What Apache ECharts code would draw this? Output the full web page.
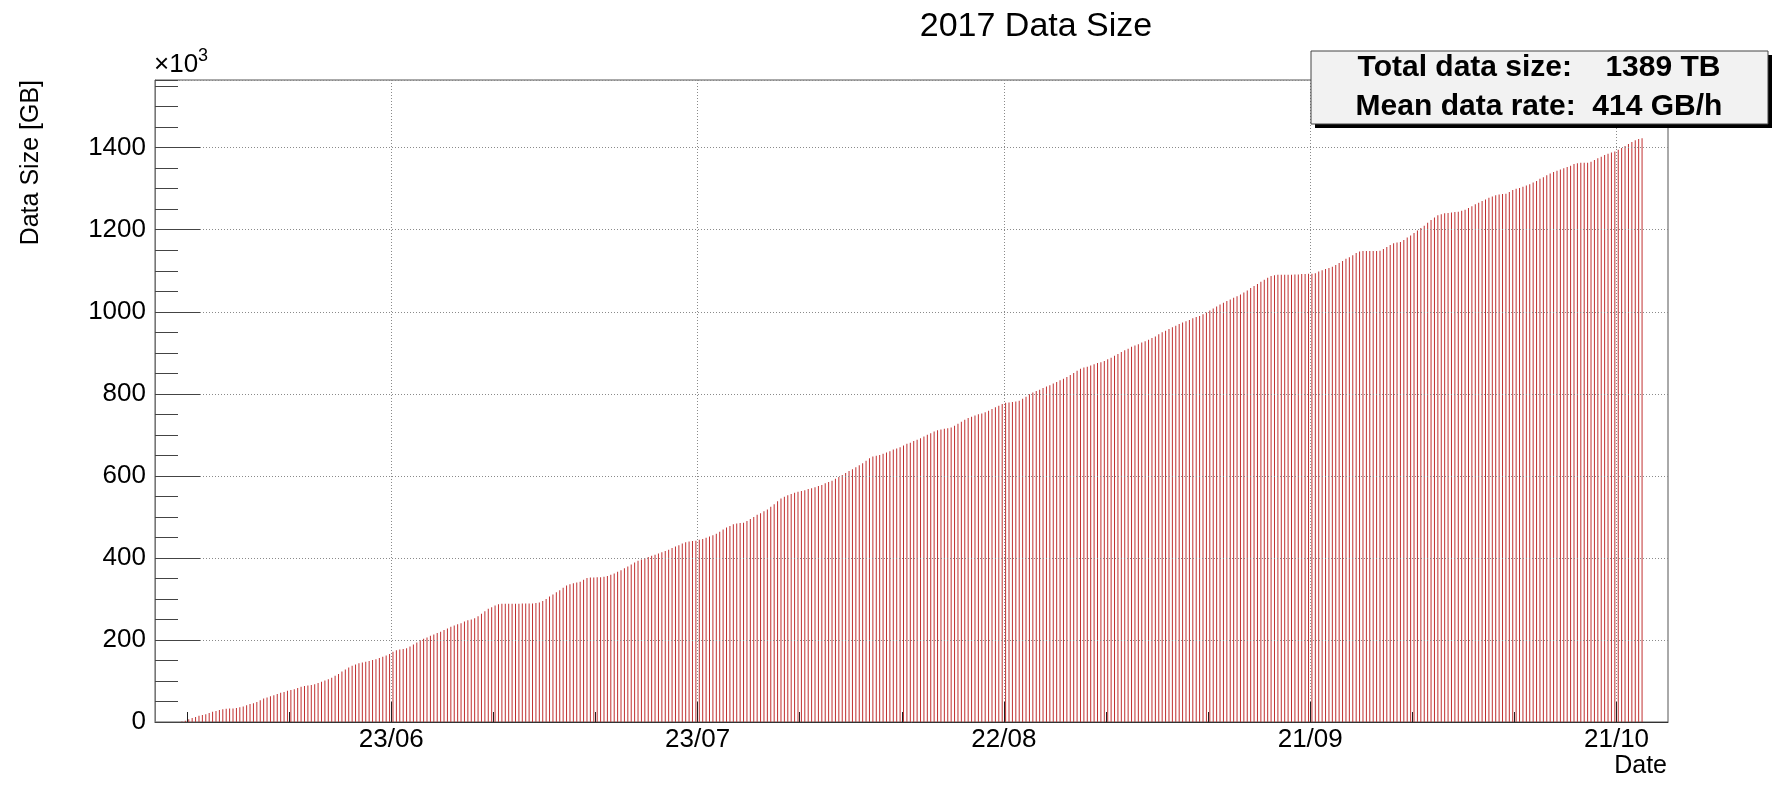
<!DOCTYPE html>
<html>
<head>
<meta charset="utf-8">
<script src="https://cdn.jsdelivr.net/npm/echarts@6/dist/echarts.min.js"></script>
<style>
html,body{margin:0;padding:0;background:#fff;}
#chart{width:1776px;height:787px;}
</style>
</head>
<body>
<div id="chart"></div>
<script>
// ---------------- data ----------------
const chartTitle = '2017 Data Size';
const yAxisTitle = 'Data Size [GB]';
const xAxisTitle = 'Date';
const statsLines = ['Total data size:    1389 TB', 'Mean data rate:  414 GB/h'];
// first 8-hour bin (UTC) and bin width
const binStart = '2017-06-02T12:00:00Z';
const binHours = 8;
// cumulative data size per 8-hour bin, in 10^3 GB
const sizeValues = [
  1,3,7,10,12,15,17,19,22,25,
  27,29,31,32,33,33,34,36,38,41,
  44,46,49,53,57,60,63,65,68,71,
  73,76,78,80,83,86,88,89,90,92,
  95,98,101,104,108,113,117,123,128,133,
  137,140,143,145,147,149,151,153,156,159,
  162,166,171,175,177,178,180,184,189,194,
  199,203,206,210,213,217,220,224,228,232,
  235,238,241,245,248,250,253,258,264,270,
  276,280,284,287,288,288,288,288,288,288,
  289,289,289,289,290,291,295,300,306,311,
  316,321,327,333,336,338,340,342,347,351,
  352,352,353,353,354,356,359,362,366,370,
  375,379,384,389,393,396,399,402,405,408,
  411,414,417,420,424,428,431,435,438,440,
  441,442,444,446,449,452,455,459,464,469,
  474,478,482,484,485,486,490,495,500,505,
  509,514,518,525,531,538,545,549,553,556,
  559,561,563,565,568,570,572,575,578,582,
  585,588,593,597,602,607,612,616,621,626,
  631,637,643,647,649,651,654,657,660,664,
  667,670,674,678,681,685,688,692,696,700,
  704,708,711,713,715,716,718,722,727,732,
  737,741,744,747,750,752,755,759,763,767,
  771,775,778,779,780,781,783,788,793,799,
  803,807,810,814,818,821,825,829,833,837,
  841,846,851,856,861,864,866,869,872,875,
  877,880,884,888,893,897,902,906,910,915,
  918,921,925,928,932,936,940,945,950,954,
  958,962,966,970,974,977,980,984,987,990,
  994,998,1003,1008,1013,1018,1022,1026,1030,1034,
  1038,1042,1047,1052,1058,1063,1068,1073,1078,1083,
  1087,1089,1090,1090,1090,1090,1090,1091,1091,1092,
  1092,1093,1093,1094,1098,1101,1104,1107,1110,1114,
  1119,1124,1129,1133,1138,1143,1147,1148,1148,1148,
  1148,1148,1149,1153,1158,1163,1167,1169,1170,1175,
  1181,1186,1192,1198,1204,1210,1217,1224,1230,1235,
  1238,1240,1241,1242,1243,1244,1246,1249,1253,1257,
  1262,1266,1270,1274,1278,1281,1284,1286,1287,1288,
  1292,1297,1300,1302,1305,1308,1311,1315,1319,1324,
  1328,1333,1337,1341,1344,1347,1350,1353,1356,1360,
  1362,1363,1363,1363,1366,1370,1374,1378,1382,1385,
  1388,1391,1395,1399,1404,1409,1414,1418,1421,1423
];
// labelled (major) date ticks and secondary ticks
const majorTickDates = ['2017-06-23','2017-07-23','2017-08-22','2017-09-21','2017-10-21'];
const minorTickDates = ['2017-06-03','2017-06-13','2017-06-23','2017-07-03','2017-07-13','2017-07-23',
  '2017-08-02','2017-08-12','2017-08-22','2017-09-01','2017-09-11','2017-09-21',
  '2017-10-01','2017-10-11','2017-10-21'];
const yMajorStep = 200;
const yMinorStep = 50;

// ---------------- build ----------------
const DAY = 86400000;
const t0 = Date.parse(binStart);
const seriesData = sizeValues.map((v, i) => [t0 + i * binHours * 3600000, v]);
const toMs = d => Date.parse(d + 'T00:00:00Z');
const majorTicks = majorTickDates.map(toMs);
const minorTicks = minorTickDates.map(toMs);
const ref = toMs('2017-06-23');
const xMin = ref - 23.14 * DAY;
const xMax = ref + 125.04 * DAY;
const yMax = 1565;

const FONT = 'Liberation Sans, Arial, Helvetica, sans-serif';
const fmtDate = v => {
  const d = new Date(v);
  const dd = String(d.getUTCDate()).padStart(2, '0');
  const mm = String(d.getUTCMonth() + 1).padStart(2, '0');
  return dd + '/' + mm;
};
const gridLine = { show: true, lineStyle: { color: '#8a8a8a', width: 1, type: [1, 2] } };

const chart = echarts.init(document.getElementById('chart'), null, { renderer: 'canvas' });
chart.setOption({
  animation: false,
  backgroundColor: '#fff',
  grid: { left: 155, right: 108, top: 80, bottom: 65, show: true, borderColor: '#555', borderWidth: 1 },
  xAxis: [
    {
      type: 'value', min: xMin, max: xMax, position: 'bottom', z: 5,
      axisLine: { show: true, onZero: false, lineStyle: { color: '#333', width: 1 } },
      axisTick: { show: true, inside: true, length: 20, customValues: majorTicks, lineStyle: { color: '#222' } },
      axisLabel: { show: true, customValues: majorTicks, formatter: fmtDate, fontFamily: FONT, fontSize: 26, color: '#000', margin: 5 },
      splitLine: gridLine
    },
    {
      type: 'value', min: xMin, max: xMax, position: 'bottom', z: 5,
      axisLine: { show: false, onZero: false },
      axisTick: { show: true, inside: true, length: 10, customValues: minorTicks, lineStyle: { color: '#222' } },
      axisLabel: { show: false },
      splitLine: { show: false }
    }
  ],
  yAxis: [
    {
      type: 'value', min: 0, max: yMax, interval: yMajorStep, position: 'left', z: 5,
      axisLine: { show: true, onZero: false, lineStyle: { color: '#777', width: 1 } },
      axisTick: { show: true, inside: true, length: 45, lineStyle: { color: '#444' } },
      axisLabel: { show: true, showMaxLabel: false, formatter: v => String(v), fontFamily: FONT, fontSize: 26, color: '#000', margin: 9 },
      splitLine: gridLine
    },
    {
      type: 'value', min: 0, max: yMax, interval: yMinorStep, position: 'left', z: 5,
      axisLine: { show: false, onZero: false },
      axisTick: { show: true, inside: true, length: 23, lineStyle: { color: '#444' } },
      axisLabel: { show: false },
      splitLine: { show: false }
    }
  ],
  series: [{
    type: 'bar', xAxisIndex: 0, yAxisIndex: 0, data: seriesData,
    barWidth: 1, itemStyle: { color: '#c03030' }, silent: true, z: 2
  }],
  graphic: [
    { type: 'text', x: 1036, y: 27, style: { text: chartTitle, font: '34px ' + FONT, fill: '#000', align: 'center', verticalAlign: 'middle' } },
    { type: 'text', x: 31, y: 80, rotation: Math.PI / 2, style: { text: yAxisTitle, font: '25px ' + FONT, fill: '#000', align: 'right', verticalAlign: 'middle' } },
    { type: 'text', x: 1667, y: 766, style: { text: xAxisTitle, font: '25px ' + FONT, fill: '#000', align: 'right', verticalAlign: 'middle' } },
    { type: 'text', x: 154, y: 65, style: { text: '\u00d710', font: '26px ' + FONT, fill: '#000', align: 'left', verticalAlign: 'middle' } },
    { type: 'text', x: 198, y: 56, style: { text: '3', font: '18px ' + FONT, fill: '#000', align: 'left', verticalAlign: 'middle' } },
    { type: 'rect', shape: { x: 1315, y: 55, width: 457, height: 73 }, style: { fill: '#000' }, z: 10 },
    { type: 'rect', shape: { x: 1311, y: 51, width: 457, height: 73 }, style: { fill: '#f2f2f2', stroke: '#444', lineWidth: 1 }, z: 11 },
    { type: 'text', x: 1539, y: 68, z: 12, style: { text: statsLines[0], font: 'bold 30px ' + FONT, fill: '#000', align: 'center', verticalAlign: 'middle' } },
    { type: 'text', x: 1539, y: 106.5, z: 12, style: { text: statsLines[1], font: 'bold 30px ' + FONT, fill: '#000', align: 'center', verticalAlign: 'middle' } }
  ]
});
</script>
</body>
</html>
